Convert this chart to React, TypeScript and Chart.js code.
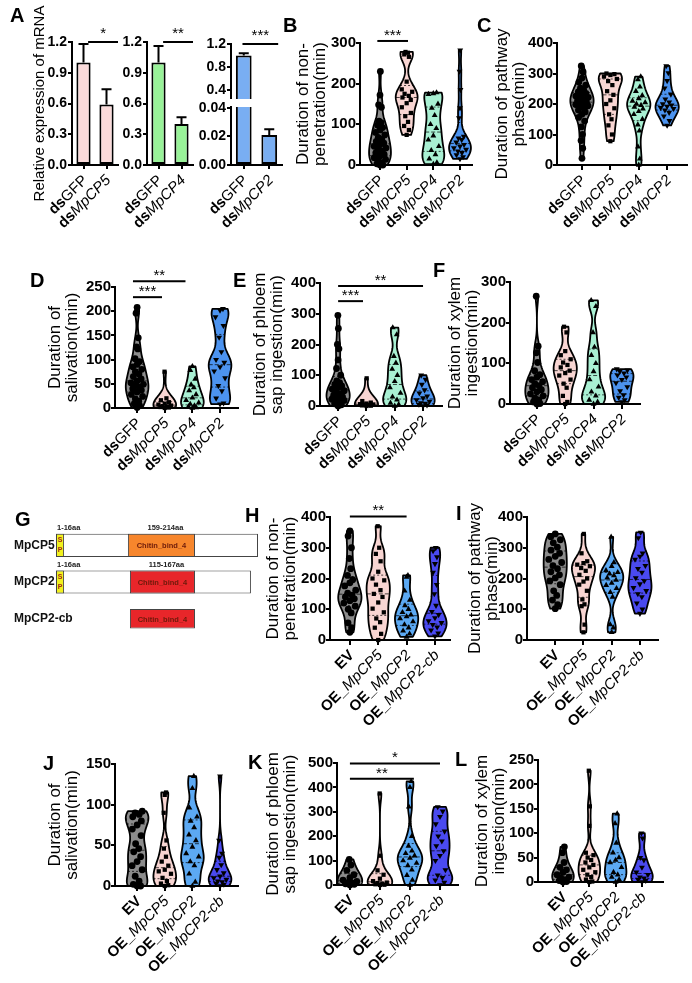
import React, { useEffect, useRef } from 'react';
import { Chart, registerables } from 'chart.js';
Chart.register(...registerables);

const FONT = '"Liberation Sans", Arial, Helvetica, sans-serif';
Chart.defaults.font.family = FONT;
Chart.defaults.color = '#000';

// ---------- Panel A data ----------
const aCats1 = ['dsGFP', 'dsMpCP5'];
const aVals1 = [1.0, 0.59];
const aErr1 = [0.18, 0.15];
const aCats2 = ['dsGFP', 'dsMpCP4'];
const aVals2 = [1.0, 0.4];
const aErr2 = [0.16, 0.065];
const aCats3 = ['dsGFP', 'dsMpCP2'];
const aVals3 = [1.0, 0.021];
const aErr3 = [0.04, 0.004];
const aTicks = [0, 0.3, 0.6, 0.9, 1.2];
const aTicks3Low = [0, 0.02, 0.04];
const aTicks3High = [0.4, 0.8, 1.2];

// ---------- Panel G data (schematic units) ----------
const gProteins = ['MpCP5', 'MpCP2', 'MpCP2-cb'];
const gWhole: any[] = [[0, 100], [0, 96.5], null];
const gSignal: any[] = [[0, 4], [0, 4], null];
const gChitin: any[] = [[35.6, 68.8], [36.6, 68.8], null];
const gChitinCb: any[] = [null, null, [36.6, 68.8]];
const gSignalLabels = ['1-16aa', '1-16aa', ''];
const gChitinLabels = ['159-214aa', '115-167aa', ''];

// ---------- categories ----------
const dsCats = ['dsGFP', 'dsMpCP5', 'dsMpCP4', 'dsMpCP2'];
const oeCats = ['EV', 'OE_MpCP5', 'OE_MpCP2', 'OE_MpCP2-cb'];
const dsColors = ['#8c8c8c', '#f8d5d2', '#a9f0d3', '#4c93ef'];
const oeColors = ['#8c8c8c', '#f8d5d2', '#5ca9f3', '#4a4af0'];
const shapes = ['circle', 'rect', 'triangle', 'invtriangle'];

// ---------- tick labels ----------
const ticks150 = [0, 50, 100, 150];
const ticks250 = [0, 50, 100, 150, 200, 250];
const ticks300 = [0, 100, 200, 300];
const ticks400 = [0, 100, 200, 300, 400];
const ticks500 = [0, 100, 200, 300, 400, 500];

// ---------- violin data ----------
const bGFP = [230, 172, 148, 142, 108, 104, 98, 92, 86, 80, 74, 68, 63, 58, 54, 50, 46, 42, 38, 34, 30, 26, 22, 18, 14, 10, 6, 3, 0, 0];
const bCP5 = [278, 276, 272, 266, 205, 186, 180, 175, 170, 166, 160, 152, 142, 128, 120, 106, 96, 86, 74];
const bCP4 = [178, 176, 174, 150, 140, 122, 100, 90, 72, 62, 46, 36, 26, 15, 6, 2];
const bCP2 = [282, 230, 185, 140, 116, 70, 66, 62, 56, 50, 46, 42, 38, 34, 30, 25, 20, 15];

const cGFP = [325, 305, 285, 272, 262, 252, 246, 240, 235, 230, 226, 222, 218, 214, 210, 206, 202, 198, 194, 190, 186, 180, 174, 166, 156, 144, 125, 100, 80, 55, 22];
const cCP5 = [300, 298, 295, 290, 282, 275, 262, 242, 230, 212, 200, 186, 166, 150, 130, 100, 78];
const cCP4 = [290, 280, 256, 242, 228, 218, 210, 205, 200, 196, 190, 184, 176, 166, 150, 132, 112, 60, 20, 0];
const cCP2 = [325, 302, 276, 252, 232, 216, 206, 200, 196, 192, 188, 185, 180, 172, 160, 145, 130];

const dGFP = [208, 196, 145, 126, 122, 102, 96, 90, 85, 80, 75, 70, 65, 60, 56, 52, 49, 46, 43, 40, 37, 33, 28, 24, 19, 14, 9, 5, 1];
const dCP5 = [75, 20, 16, 12, 9, 7, 5, 4, 3, 2, 1, 0];
const dCP4 = [86, 78, 60, 48, 42, 36, 28, 21, 16, 11, 8, 5, 3, 1, 0];
const dCP2 = [205, 202, 188, 170, 146, 116, 100, 94, 85, 76, 62, 46, 35, 20, 10, 8];

const eGFP = [295, 252, 200, 186, 150, 122, 100, 82, 76, 70, 65, 60, 55, 50, 45, 40, 35, 30, 26, 22, 18, 14, 10, 7, 4, 0];
const eCP5 = [90, 16, 11, 8, 6, 5, 4, 3, 2, 1, 0];
const eCP4 = [255, 232, 162, 140, 120, 100, 80, 60, 42, 30, 20, 10, 5, 0];
const eCP2 = [100, 86, 70, 52, 42, 32, 26, 20, 15, 10, 8, 5, 3, 0];

const fGFP = [265, 142, 126, 102, 82, 72, 66, 60, 55, 50, 45, 40, 35, 30, 25, 20, 15, 10, 5, 1, 0];
const fCP5 = [190, 176, 130, 120, 110, 102, 96, 90, 82, 76, 70, 60, 50, 40, 20, 5, 0];
const fCP4 = [255, 240, 176, 140, 120, 100, 80, 60, 42, 30, 20, 10, 5, 0];
const fCP2 = [86, 83, 80, 76, 71, 66, 60, 52, 42, 32, 22, 16, 10, 5];

const hEV = [355, 338, 300, 265, 232, 210, 196, 186, 176, 162, 152, 146, 140, 134, 128, 120, 110, 100, 88, 56, 40, 25];
const hCP5 = [370, 300, 280, 256, 222, 200, 194, 180, 162, 150, 140, 122, 102, 90, 70, 58, 40, 20, 0];
const hCP2 = [210, 205, 160, 130, 112, 100, 90, 82, 76, 70, 60, 50, 40, 30, 20, 10];
const hCb = [300, 290, 270, 248, 220, 180, 150, 112, 92, 82, 72, 62, 56, 50, 42, 32, 22, 12];

const iEV = [345, 336, 326, 316, 302, 292, 282, 272, 262, 252, 242, 232, 222, 212, 202, 192, 180, 160, 145, 130, 115, 102];
const iCP5 = [345, 282, 256, 250, 245, 240, 234, 225, 212, 200, 190, 180, 160, 132, 116, 110, 50, 25];
const iCP2 = [335, 252, 240, 226, 220, 215, 210, 202, 195, 185, 178, 168, 155, 140, 50, 40, 25];
const iCb = [350, 332, 282, 272, 262, 242, 232, 220, 202, 192, 182, 170, 160, 150, 140, 120, 100, 86];

const jEV = [92, 90, 88, 85, 80, 75, 70, 62, 52, 46, 42, 36, 30, 25, 20, 12, 6, 2, 0, 0];
const jCP5 = [115, 112, 90, 56, 46, 36, 30, 25, 20, 18, 15, 10, 6, 3, 1, 0];
const jCP2 = [135, 120, 96, 85, 80, 72, 63, 56, 48, 40, 36, 30, 25, 15, 5, 0];
const jCb = [135, 56, 40, 35, 26, 20, 16, 12, 10, 8, 6, 5, 3, 2, 0];

const kEV = [105, 82, 60, 42, 30, 20, 15, 10, 8, 5, 3, 0];
const kCP5 = [375, 120, 60, 42, 26, 16, 10, 8, 5, 3, 1, 0];
const kCP2 = [425, 400, 320, 200, 160, 140, 130, 120, 110, 100, 90, 80, 62, 40, 20, 0];
const kCb = [320, 302, 280, 250, 220, 200, 180, 160, 140, 120, 100, 62, 40, 30, 20, 10, 0];

const lEV = [72, 60, 40, 30, 25, 20, 15, 10, 8, 5, 3, 1, 0];
const lCP5 = [228, 155, 115, 60, 55, 50, 45, 40, 35, 30, 25, 20, 15, 10, 5, 1, 0];
const lCP2 = [140, 120, 80, 60, 50, 45, 40, 30, 20, 15, 10, 5, 0];
const lCb = [100, 90, 50, 45, 30, 20, 15, 10, 8, 5, 3, 0];

type Sig = { from: number; to: number; y: number; label: string };
type ViolinPanel = {
  axisX: number; axisEnd: number; yTopPx: number; y0Px: number;
  yTicks: number[]; xMin: number; xMax: number;
  cats: string[]; groups: number[][]; colors: string[];
  title: string[]; titleX: number; sig: Sig[];
};

const violinPanels: ViolinPanel[] = [
  { axisX: 360, axisEnd: 472, yTopPx: 43, y0Px: 165, yTicks: ticks300, xMin: -0.75, xMax: 3.45, cats: dsCats, groups: [bGFP, bCP5, bCP4, bCP2], colors: dsColors, title: ['Duration of non-', 'penetration(min)'], titleX: 303, sig: [{ from: -0.1, to: 1.05, y: 305, label: '***' }] },
  { axisX: 557, axisEnd: 687, yTopPx: 43, y0Px: 165, yTicks: ticks400, xMin: -0.88, xMax: 3.7, cats: dsCats, groups: [cGFP, cCP5, cCP4, cCP2], colors: dsColors, title: ['Duration of pathway', 'phase(min)'], titleX: 502, sig: [] },
  { axisX: 115, axisEnd: 238, yTopPx: 287, y0Px: 408, yTicks: ticks250, xMin: -0.8, xMax: 3.65, cats: dsCats, groups: [dGFP, dCP5, dCP4, dCP2], colors: dsColors, title: ['Duration of', 'salivation(min)'], titleX: 55, sig: [{ from: -0.15, to: 1.75, y: 262, label: '**' }, { from: -0.15, to: 0.9, y: 229, label: '***' }] },
  { axisX: 320, axisEnd: 442, yTopPx: 283, y0Px: 406, yTicks: ticks400, xMin: -0.64, xMax: 3.67, cats: dsCats, groups: [eGFP, eCP5, eCP4, eCP2], colors: dsColors, title: ['Duration of phloem', 'sap ingestion(min)'], titleX: 260, sig: [{ from: 0, to: 3, y: 390, label: '**' }, { from: 0, to: 0.88, y: 341, label: '***' }] },
  { axisX: 510, axisEnd: 640, yTopPx: 282, y0Px: 404, yTicks: ticks300, xMin: -0.95, xMax: 3.64, cats: dsCats, groups: [fGFP, fCP5, fCP4, fCP2], colors: dsColors, title: ['Duration of xylem', 'ingestion(min)'], titleX: 455, sig: [] },
  { axisX: 330, axisEnd: 450, yTopPx: 517, y0Px: 640, yTicks: ticks400, xMin: -0.7, xMax: 3.53, cats: oeCats, groups: [hEV, hCP5, hCP2, hCb], colors: oeColors, title: ['Duration of non-', 'penetration(min)'], titleX: 273, sig: [{ from: 0, to: 2, y: 402, label: '**' }] },
  { axisX: 527, axisEnd: 658, yTopPx: 517, y0Px: 640, yTicks: ticks400, xMin: -1.0, xMax: 3.64, cats: oeCats, groups: [iEV, iCP5, iCP2, iCb], colors: oeColors, title: ['Duration of pathway', 'phase(min)'], titleX: 475, sig: [] },
  { axisX: 115, axisEnd: 238, yTopPx: 764, y0Px: 886, yTicks: ticks150, xMin: -0.8, xMax: 3.65, cats: oeCats, groups: [jEV, jCP5, jCP2, jCb], colors: oeColors, title: ['Duration of', 'salivation(min)'], titleX: 55, sig: [] },
  { axisX: 337, axisEnd: 458, yTopPx: 763, y0Px: 885, yTicks: ticks500, xMin: -0.43, xMax: 3.6, cats: oeCats, groups: [kEV, kCP5, kCP2, kCb], colors: oeColors, title: ['Duration of phloem', 'sap ingestion(min)'], titleX: 273, sig: [{ from: 0, to: 3, y: 498, label: '*' }, { from: 0, to: 2.13, y: 435, label: '**' }] },
  { axisX: 538, axisEnd: 663, yTopPx: 760, y0Px: 882, yTicks: ticks250, xMin: -0.95, xMax: 3.8, cats: oeCats, groups: [lEV, lCP5, lCP2, lCb], colors: oeColors, title: ['Duration of xylem', 'ingestion(min)'], titleX: 482, sig: [] },
];

const letters: [string, number, number][] = [
  ['A', 10, 8], ['B', 283, 18], ['C', 477, 18], ['D', 30, 273], ['E', 233, 273], ['F', 433, 263],
  ['G', 15, 512], ['H', 245, 508], ['I', 456, 506], ['J', 43, 756], ['K', 248, 755], ['L', 455, 752],
];

// ---------- helpers ----------
function labelParts(s: string): [string, string][] {
  if (s.startsWith('OE_')) return [['OE_', 'bold'], [s.slice(3), 'italic']];
  if (s.startsWith('ds')) {
    const r = s.slice(2);
    return [['ds', 'bold'], [r, r === 'GFP' ? 'normal' : 'italic']];
  }
  return [[s, 'bold']];
}

function drawCatLabels(chart: any, cats: string[], size: number, dy: number) {
  const ctx = chart.ctx;
  const xs = chart.scales.x;
  cats.forEach((c, i) => {
    const x = xs.getPixelForValue(i);
    const y = xs.top + dy;
    const ps = labelParts(c);
    const fonts = ps.map(([, st]) => (st === 'bold' ? `bold ${size}px ${FONT}` : st === 'italic' ? `italic ${size}px ${FONT}` : `${size}px ${FONT}`));
    let total = 0;
    const ws = ps.map(([t], k) => { ctx.font = fonts[k]; const w = ctx.measureText(t).width; total += w; return w; });
    ctx.save();
    ctx.translate(x + 2, y);
    ctx.rotate(-Math.PI / 4);
    ctx.textBaseline = 'middle';
    ctx.textAlign = 'left';
    ctx.fillStyle = '#000';
    let cx = -total;
    ps.forEach(([t], k) => { ctx.font = fonts[k]; ctx.fillText(t, cx, 0); cx += ws[k]; });
    ctx.restore();
  });
}

function drawSig(chart: any, sig: Sig[], starLift: number) {
  const ctx = chart.ctx;
  const xs = chart.scales.x, ys = chart.scales.y;
  ctx.save();
  sig.forEach((s) => {
    const x1 = xs.getPixelForValue(s.from), x2 = xs.getPixelForValue(s.to);
    const y = ys.getPixelForValue(s.y);
    ctx.strokeStyle = '#000';
    ctx.lineWidth = 2;
    ctx.beginPath(); ctx.moveTo(x1, y); ctx.lineTo(x2, y); ctx.stroke();
    ctx.font = `15px ${FONT}`;
    ctx.textAlign = 'center';
    ctx.textBaseline = 'alphabetic';
    ctx.fillStyle = '#000';
    ctx.fillText(s.label, (x1 + x2) / 2, y - starLift);
  });
  ctx.restore();
}

function kde(vals: number[], bw: number, y: number) {
  let d = 0;
  for (const v of vals) { const z = (y - v) / bw; d += Math.exp(-0.5 * z * z); }
  return d;
}

const axisGrid = (len: number) => ({ drawOnChartArea: false, drawTicks: true, tickLength: len, color: '#000', lineWidth: 2 });
const axisBorder = { display: true, color: '#000', width: 2 };
const zeroPadV = (s: any) => { s.paddingTop = 0; s.paddingBottom = 0; };
const zeroPadH = (s: any) => { s.paddingLeft = 0; s.paddingRight = 0; };

// ---------- violin chart ----------
function violinBox(p: ViolinPanel) {
  const TOP = 40, YW = 100, BOT = 100, RIGHT = 10;
  const left = p.axisX - YW;
  const top = p.yTopPx - TOP;
  const width = YW + (p.axisEnd - p.axisX) + RIGHT;
  const height = TOP + (p.y0Px - p.yTopPx) + BOT;
  const yMax = p.yTicks[p.yTicks.length - 1];
  const bw = yMax * 0.065;
  const HW = 0.41;
  const spread = [0, 0.55, -0.55, 0.28, -0.28, 0.8, -0.8];
  const N = 90;
  const stats = p.groups.map((vals) => {
    const sorted = [...vals].sort((a, b) => a - b);
    const lo = sorted[0], hi = sorted[sorted.length - 1];
    const prof: [number, number][] = [];
    for (let k = 0; k <= N; k++) { const y = lo + ((hi - lo) * k) / N; prof.push([y, kde(sorted, bw, y)]); }
    const maxD = Math.max(...prof.map((q) => q[1]));
    return { sorted, prof, maxD };
  });
  const datasets = p.groups.map((vals, gi) => {
    const st = stats[gi];
    const shape = shapes[gi];
    return {
      type: 'scatter',
      data: st.sorted.map((v, i) => ({ x: gi + spread[i % spread.length] * HW * 0.7 * (kde(st.sorted, bw, v) / st.maxD), y: v })),
      pointStyle: shape === 'invtriangle' ? 'triangle' : shape,
      rotation: shape === 'invtriangle' ? 180 : 0,
      pointRadius: shape === 'rect' ? 3 : 3.4,
      backgroundColor: '#000',
      borderColor: '#000',
      borderWidth: 0,
      clip: false,
    };
  });
  const plugin = {
    id: 'violinExtras',
    beforeDatasetsDraw(chart: any) {
      const ctx = chart.ctx;
      const xs = chart.scales.x, ys = chart.scales.y;
      stats.forEach((st, gi) => {
        const cx = xs.getPixelForValue(gi);
        const hw = Math.abs(xs.getPixelForValue(HW) - xs.getPixelForValue(0));
        ctx.save();
        ctx.beginPath();
        st.prof.forEach(([y, d], k) => {
          const px = cx + (hw * d) / st.maxD, py = ys.getPixelForValue(y);
          if (k) ctx.lineTo(px, py); else ctx.moveTo(px, py);
        });
        for (let k = st.prof.length - 1; k >= 0; k--) {
          const [y, d] = st.prof[k];
          ctx.lineTo(cx - (hw * d) / st.maxD, ys.getPixelForValue(y));
        }
        ctx.closePath();
        ctx.fillStyle = p.colors[gi];
        ctx.fill();
        ctx.lineWidth = 1.8;
        ctx.lineJoin = 'round';
        ctx.strokeStyle = '#000';
        ctx.stroke();
        const s = st.sorted;
        const q = (pp: number) => { const pos = (s.length - 1) * pp; const b = Math.floor(pos); const r = pos - b; return s[b] + (s[Math.min(b + 1, s.length - 1)] - s[b]) * r; };
        [[0.25, [2, 2]], [0.5, [4, 2]], [0.75, [2, 2]]].forEach(([pp, dash]: any) => {
          const v = q(pp);
          const w = (hw * kde(s, bw, v)) / st.maxD;
          const py = ys.getPixelForValue(v);
          ctx.setLineDash(dash);
          ctx.lineWidth = 1;
          ctx.strokeStyle = 'rgba(0,0,0,0.7)';
          ctx.beginPath(); ctx.moveTo(cx - w, py); ctx.lineTo(cx + w, py); ctx.stroke();
        });
        ctx.restore();
      });
    },
    afterDraw(chart: any) {
      drawCatLabels(chart, p.cats, 15, 13);
      drawSig(chart, p.sig, 1);
    },
  };
  const config: any = {
    type: 'scatter',
    data: { datasets },
    options: {
      responsive: false,
      animation: false,
      events: [],
      layout: { padding: { top: TOP, right: RIGHT, left: 0, bottom: 0 } },
      plugins: { legend: { display: false }, tooltip: { enabled: false } },
      scales: {
        x: {
          type: 'linear', min: p.xMin, max: p.xMax,
          afterBuildTicks: (a: any) => { a.ticks = p.cats.map((_, i) => ({ value: i })); },
          afterFit: (s: any) => { s.height = BOT; zeroPadH(s); },
          ticks: { display: false },
          grid: axisGrid(5),
          border: axisBorder,
        },
        y: {
          type: 'linear', min: 0, max: yMax,
          afterBuildTicks: (a: any) => { a.ticks = p.yTicks.map((v) => ({ value: v })); },
          afterFit: (s: any) => { s.width = YW; zeroPadV(s); },
          ticks: { font: { size: 15, weight: 'bold', family: FONT }, color: '#000', padding: 0 },
          grid: axisGrid(4),
          border: axisBorder,
          title: { display: true, text: p.title, color: '#000', font: { size: 17, family: FONT, lineHeight: 1.0 }, padding: { top: p.titleX - left - 8.5, bottom: 0 } },
        },
      },
    },
    plugins: [plugin],
  };
  return { left, top, width, height, config };
}

// ---------- bar charts (panel A) ----------
type BarOpts = {
  left: number; top: number; width: number; height: number;
  cats: string[]; vals: number[]; errs: number[]; color: string;
  yMin: number; yMax: number; ticks: number[]; digits: number; yw: number;
  padTop: number; showX: boolean; xh: number; title?: string[]; titleX?: number; sig?: Sig[];
};
function barBox(o: BarOpts) {
  const plugin = {
    id: 'barExtras',
    afterDatasetsDraw(chart: any) {
      const ctx = chart.ctx;
      const ys = chart.scales.y;
      const meta = chart.getDatasetMeta(0);
      ctx.save();
      ctx.strokeStyle = '#000';
      ctx.lineWidth = 2;
      meta.data.forEach((el: any, i: number) => {
        const v = o.vals[i], e = o.errs[i];
        if (v + e > ys.max || v < ys.min) return;
        const y1 = ys.getPixelForValue(v), y2 = ys.getPixelForValue(v + e);
        ctx.beginPath();
        ctx.moveTo(el.x, y1); ctx.lineTo(el.x, y2);
        ctx.moveTo(el.x - 5, y2); ctx.lineTo(el.x + 5, y2);
        ctx.stroke();
      });
      ctx.restore();
    },
    afterDraw(chart: any) {
      if (o.showX) drawCatLabels(chart, o.cats, 15, 13);
      if (o.sig) drawSig(chart, o.sig, 4);
    },
  };
  const config: any = {
    type: 'bar',
    data: {
      labels: o.cats,
      datasets: [{ data: o.vals, backgroundColor: o.color, borderColor: '#000', borderWidth: 2, borderSkipped: false, barPercentage: 0.65, categoryPercentage: 0.95 }],
    },
    options: {
      responsive: false,
      animation: false,
      events: [],
      layout: { padding: { top: o.padTop, right: 5, left: 0, bottom: 0 } },
      plugins: { legend: { display: false }, tooltip: { enabled: false } },
      scales: {
        x: {
          display: o.showX,
          afterFit: (s: any) => { s.height = o.xh; zeroPadH(s); },
          ticks: { display: false },
          grid: { ...axisGrid(4), offset: false },
          border: axisBorder,
        },
        y: {
          min: o.yMin, max: o.yMax,
          afterBuildTicks: (a: any) => { a.ticks = o.ticks.map((v) => ({ value: v })); },
          afterFit: (s: any) => { s.width = o.yw; zeroPadV(s); },
          ticks: { callback: (v: any) => Number(v).toFixed(o.digits), font: { size: 14, weight: 'bold', family: FONT }, color: '#000', padding: 1 },
          grid: axisGrid(4),
          border: axisBorder,
          title: o.title
            ? { display: true, text: o.title, color: '#000', font: { size: 15, family: FONT, lineHeight: 1.2 }, padding: { top: (o.titleX || 0) - o.left - 9, bottom: 0 } }
            : { display: false },
        },
      },
    },
    plugins: [plugin],
  };
  return { left: o.left, top: o.top, width: o.width, height: o.height, config };
}

const aBoxes = [
  barBox({ left: 0, top: 0, width: 123, height: 235, cats: aCats1, vals: aVals1, errs: aErr1, color: '#fadada', yMin: 0, yMax: 1.2, ticks: aTicks, digits: 1, yw: 72, padTop: 42, showX: true, xh: 70, title: ['Relative expression of mRNA'], titleX: 40, sig: [{ from: 0.2, to: 1.5, y: 1.2, label: '*' }] }),
  barBox({ left: 107, top: 0, width: 91, height: 235, cats: aCats2, vals: aVals2, errs: aErr2, color: '#98f298', yMin: 0, yMax: 1.2, ticks: aTicks, digits: 1, yw: 40, padTop: 42, showX: true, xh: 70, sig: [{ from: 0.2, to: 1.5, y: 1.2, label: '**' }] }),
  barBox({ left: 191, top: 0, width: 96, height: 99, cats: aCats3, vals: aVals3, errs: aErr3, color: '#79aef2', yMin: 0.24, yMax: 1.2, ticks: aTicks3High, digits: 1, yw: 40, padTop: 44, showX: false, xh: 0, sig: [{ from: -0.05, to: 1.35, y: 1.2, label: '***' }] }),
  barBox({ left: 191, top: 100, width: 96, height: 135, cats: aCats3, vals: aVals3, errs: aErr3, color: '#79aef2', yMin: 0, yMax: 0.0407, ticks: aTicks3Low, digits: 2, yw: 40, padTop: 7, showX: true, xh: 70 }),
];

// ---------- panel G ----------
function gBox() {
  const plugin = {
    id: 'gText',
    afterDatasetsDraw(chart: any) {
      const ctx = chart.ctx;
      ctx.save();
      const ys = chart.scales.y;
      ctx.font = `bold 12px ${FONT}`;
      ctx.fillStyle = '#111';
      ctx.textAlign = 'left';
      ctx.textBaseline = 'middle';
      gProteins.forEach((name, i) => ctx.fillText(name, 0, ys.getPixelForValue(i)));
      ctx.textAlign = 'center';
      const sigMeta = chart.getDatasetMeta(1);
      sigMeta.data.forEach((el: any, i: number) => {
        if (!gSignal[i]) return;
        const cx = (el.x + el.base) / 2;
        ctx.font = `bold 7px ${FONT}`;
        ctx.fillStyle = '#a02818';
        ctx.fillText('S', cx, el.y - 5);
        ctx.fillText('P', cx, el.y + 5);
        ctx.font = `bold 7.5px ${FONT}`;
        ctx.fillStyle = '#222';
        ctx.textAlign = 'left';
        ctx.fillText(gSignalLabels[i], Math.min(el.x, el.base) + 1, el.y - el.height / 2 - 6);
        ctx.textAlign = 'center';
      });
      [2, 3].forEach((di) => {
        const meta = chart.getDatasetMeta(di);
        const src = di === 2 ? gChitin : gChitinCb;
        meta.data.forEach((el: any, i: number) => {
          if (!src[i]) return;
          const cx = (el.x + el.base) / 2;
          ctx.font = `bold 7.5px ${FONT}`;
          ctx.fillStyle = '#6b1a0a';
          ctx.fillText('Chitin_bind_4', cx, el.y + 1);
          if (gChitinLabels[i]) {
            ctx.fillStyle = '#222';
            ctx.fillText(gChitinLabels[i], cx + 4, el.y - el.height / 2 - 6);
          }
        });
      });
      ctx.restore();
    },
  };
  const config: any = {
    type: 'bar',
    data: {
      labels: gProteins,
      datasets: [
        { data: gWhole, backgroundColor: '#ffffff', borderColor: '#444', borderWidth: 1, borderSkipped: false, grouped: false, barPercentage: 0.63, categoryPercentage: 1, order: 3 },
        { data: gSignal, backgroundColor: '#f2f21e', borderColor: '#444', borderWidth: 1, borderSkipped: false, grouped: false, barPercentage: 0.63, categoryPercentage: 1, order: 1 },
        { data: gChitin, backgroundColor: ['#f7862c', '#e8262a', '#e8262a'], borderColor: '#444', borderWidth: 1, borderSkipped: false, grouped: false, barPercentage: 0.63, categoryPercentage: 1, order: 1 },
        { data: gChitinCb, backgroundColor: '#e8262a', borderColor: '#444', borderWidth: 1, borderSkipped: false, grouped: false, barPercentage: 0.53, categoryPercentage: 1, order: 1 },
      ],
    },
    options: {
      indexAxis: 'y',
      responsive: false,
      animation: false,
      events: [],
      layout: { padding: { top: 17, right: 16, left: 0, bottom: 3 } },
      plugins: { legend: { display: false }, tooltip: { enabled: false } },
      scales: {
        x: { type: 'linear', min: 0, max: 100, display: false },
        y: {
          type: 'category',
          afterFit: (s: any) => { s.width = 42; zeroPadV(s); },
          ticks: { display: false },
          grid: { display: false },
          border: { display: false },
        },
      },
    },
    plugins: [plugin],
  };
  return { left: 14, top: 510, width: 260, height: 130, config };
}

function ChartBox({ box }: { box: { left: number; top: number; width: number; height: number; config: any } }) {
  const ref = useRef<HTMLCanvasElement>(null);
  useEffect(() => {
    const chart = new Chart(ref.current as HTMLCanvasElement, box.config);
    return () => chart.destroy();
  }, []);
  return (
    <canvas
      ref={ref}
      width={box.width}
      height={box.height}
      style={{ position: 'absolute', left: box.left, top: box.top, width: box.width, height: box.height }}
    />
  );
}

export default function App() {
  const boxes = [...aBoxes, gBox(), ...violinPanels.map(violinBox)];
  return (
    <div style={{ position: 'fixed', left: 0, top: 0, width: 692, height: 983, background: '#fff', overflow: 'hidden', fontFamily: FONT }}>
      {boxes.map((b, i) => <ChartBox key={i} box={b} />)}
      {letters.map(([t, x, y]) => (
        <div key={t} style={{ position: 'absolute', left: x, top: y - 3, fontSize: 20, lineHeight: '20px', fontWeight: 'bold', color: '#000' }}>{t}</div>
      ))}
    </div>
  );
}
